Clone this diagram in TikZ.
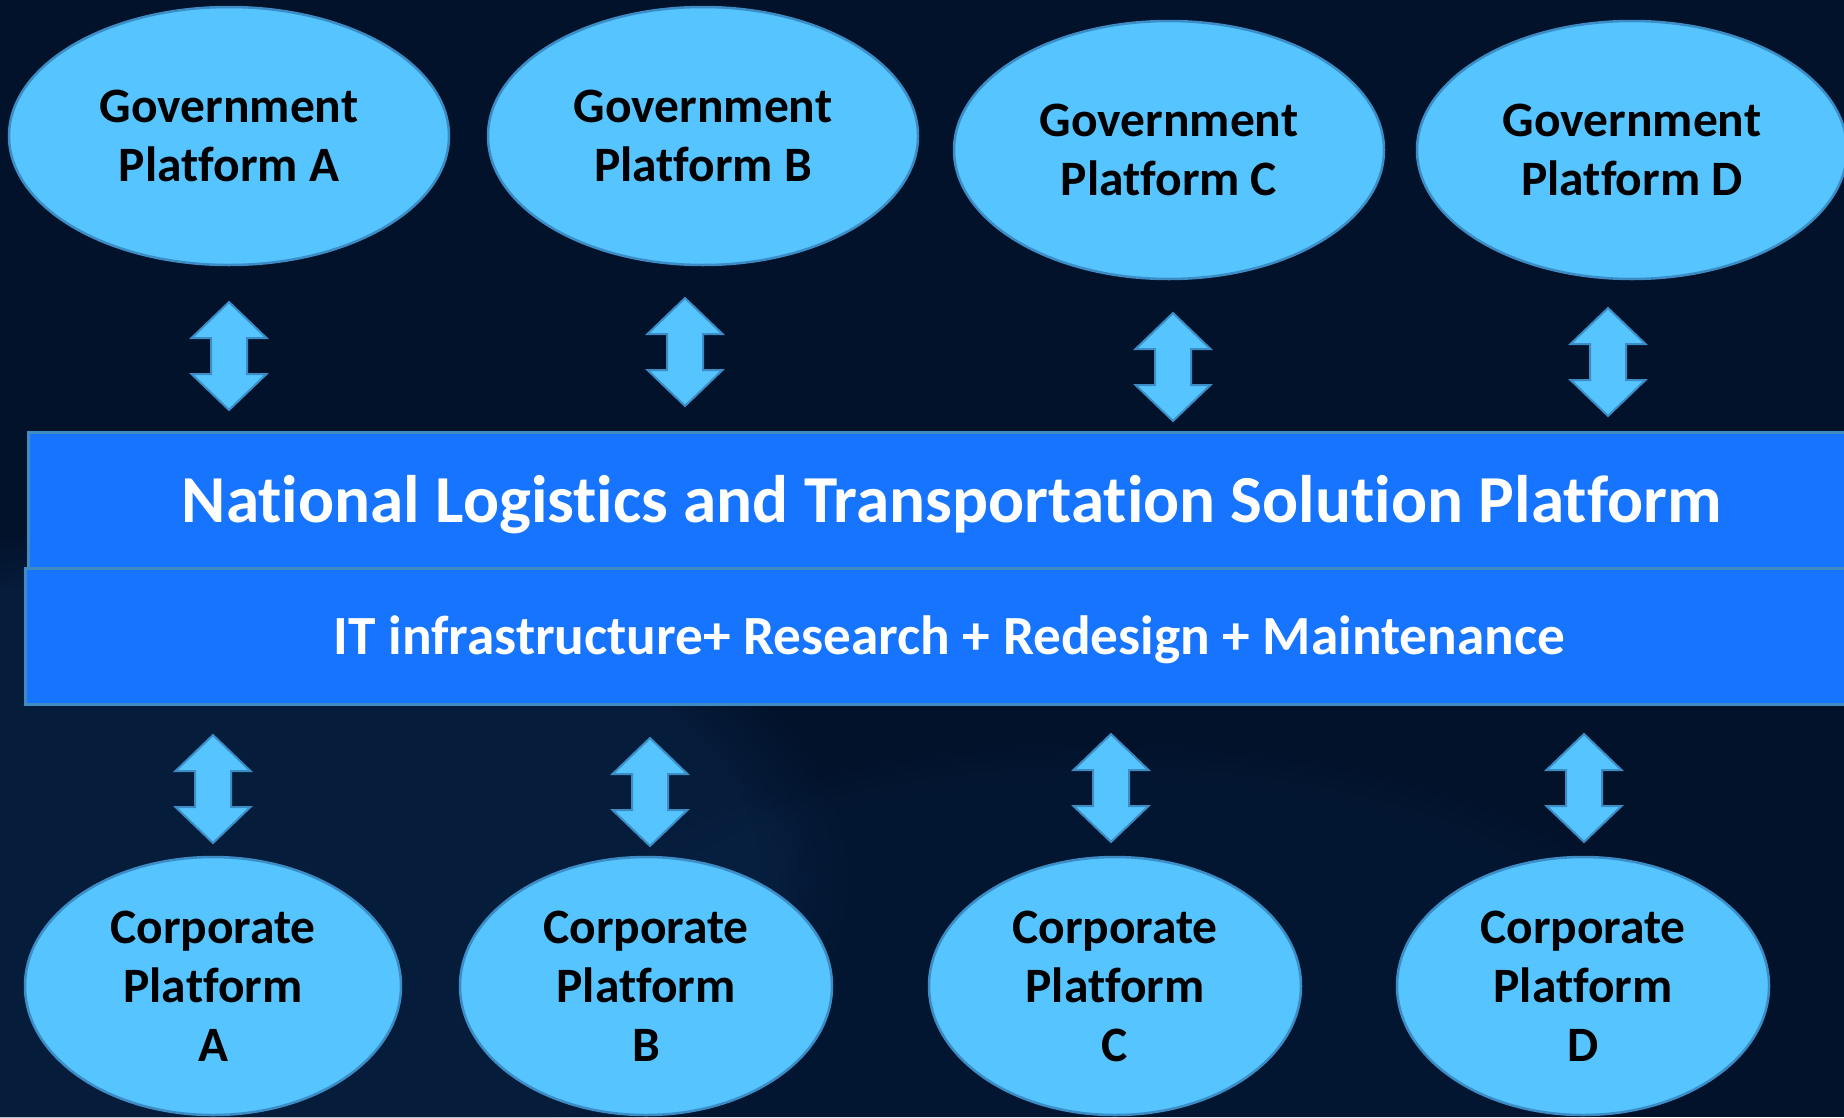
\documentclass[tikz,border=0pt]{standalone}
\usepackage{fontspec}
\setmainfont{Carlito}[Ligatures={NoCommon,NoContextual},RawFeature={-liga;-clig;-dlig;-calt}]
\usetikzlibrary{shapes.geometric,fadings}
\definecolor{bgc}{HTML}{02122B}
\definecolor{bglight}{HTML}{103560}
\definecolor{ellFill}{HTML}{56C4FF}
\definecolor{ellBorder}{HTML}{3C8DC6}
\definecolor{bandFill}{HTML}{1674FF}
\definecolor{bandBorder}{HTML}{3E8CC2}
\begin{document}
\begin{tikzpicture}[x=1pt,y=-1pt,
  gov/.style={ellipse, draw=ellBorder, fill=ellFill, line width=2.5pt,
    minimum width=430pt, minimum height=258pt, inner sep=0pt, align=center,
    font=\fontsize{49.5}{59}\selectfont\bfseries, text=black},
  corp/.style={gov, minimum width=372pt},
  band/.style={rectangle, draw=bandBorder, fill=bandFill, line width=3pt,
    anchor=north west, inner sep=0pt},
  bandtext/.style={inner sep=0pt, text=white},
  dblarrow/.pic={\path[fill=ellFill, draw=ellBorder, line width=2pt, line join=miter]
    (0,-54) -- (37.5,-18) -- (18,-18) -- (18,18) -- (37.5,18) -- (0,54)
    -- (-37.5,18) -- (-18,18) -- (-18,-18) -- (-37.5,-18) -- cycle;}]
\useasboundingbox (0,0) rectangle (1844,1117);
\clip (0,0) rectangle (1844,1117);
% background
\fill[bgc] (0,0) rectangle (1844,1117);
\fill[bglight, opacity=0.3, path fading=circle with fuzzy edge 15 percent]
  (200,880) ellipse [x radius=650, y radius=360];
\fill[bglight, opacity=0.12, path fading=circle with fuzzy edge 15 percent]
  (1100,1000) ellipse [x radius=600, y radius=260];
% central band
\node[band, minimum width=1846pt, minimum height=136pt] (nl) at (27,431) {};
\node[band, minimum width=1848pt, minimum height=136pt] (it) at (24,567) {};
\node[bandtext, font=\fontsize{67.2}{80}\selectfont\bfseries] (nlt)
  at ([yshift=-4pt]nl.center) {National Logistics and Transportation Solution Platform};
\node[bandtext, font=\fontsize{55.3}{66}\selectfont\bfseries] (itt)
  at ([yshift=-3pt]it.center) {IT infrastructure+ Research + Redesign + Maintenance};
% government platforms
\node[gov, minimum width=440pt] (ga) at (229,136) {Government\\Platform A};
\node[gov] (gb) at (703,136) {Government\\Platform B};
\node[gov] (gc) at (1169,150) {Government\\Platform C};
\node[gov] (gd) at (1632,150) {Government\\Platform D};
% corporate platforms
\node[corp, minimum width=376pt] (ca) at (213,986) {Corporate\\Platform\\A};
\node[corp] (cb) at (646,986) {Corporate\\Platform\\B};
\node[corp] (cc) at (1115,986) {Corporate\\Platform\\C};
\node[corp] (cd) at (1583,986) {Corporate\\Platform\\D};
% double arrows
\pic (aga) at (229,356) {dblarrow};
\pic (agb) at (685,352) {dblarrow};
\pic (agc) at (1173,367) {dblarrow};
\pic (agd) at (1608,362) {dblarrow};
\pic (aca) at (213,789) {dblarrow};
\pic (acb) at (650,792) {dblarrow};
\pic (acc) at (1111,788) {dblarrow};
\pic (acd) at (1584,788) {dblarrow};
\end{tikzpicture}
\end{document}
